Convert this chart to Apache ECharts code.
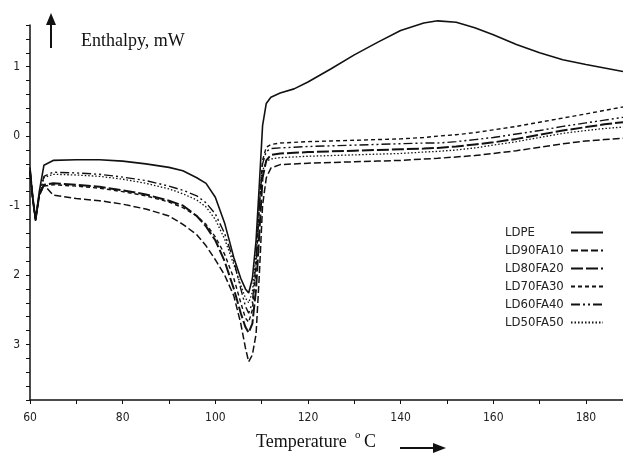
<!DOCTYPE html>
<html>
<head>
<meta charset="utf-8">
<script src="https://cdn.jsdelivr.net/npm/echarts@6/dist/echarts.min.js"></script>
<style>
  html, body { margin: 0; padding: 0; background: #fff; }
  #chart { width: 623px; height: 455px; }
</style>
</head>
<body>
<div id="chart"></div>
<script>
// temperature (°C) sampling points shared by all curves
const temps = [60, 60.6, 61.2, 62, 63, 65, 70, 75, 80, 85, 90, 93, 96, 98, 100, 102, 104, 105.5, 106.5, 107.2,
  108, 108.8, 109.5, 110.2, 111, 112, 114, 117, 120, 125, 130, 135, 140, 145, 148, 152, 156, 160, 165, 170,
  175, 180, 184, 188]

// enthalpy (mW)
const ldpe = [-0.45, -0.9, -1.22, -0.8, -0.42, -0.35, -0.34, -0.34, -0.36, -0.4, -0.45, -0.5, -0.6, -0.68, -0.88,
  -1.25, -1.75, -2.05, -2.2, -2.26, -2.05, -1.5, -0.7, 0.15, 0.47, 0.56, 0.62, 0.68, 0.78, 0.97, 1.17, 1.35, 1.52,
  1.63, 1.66, 1.64, 1.56, 1.46, 1.32, 1.2, 1.1, 1.03, 0.98, 0.93]
const ld90 = [-0.5, -0.9, -1.2, -0.85, -0.7, -0.85, -0.9, -0.93, -0.98, -1.05, -1.15, -1.27, -1.42, -1.58, -1.78,
  -2.0, -2.3, -2.7, -3.05, -3.25, -3.15, -2.85, -2.0, -1.0, -0.6, -0.46, -0.41, -0.4, -0.39, -0.38, -0.37, -0.36,
  -0.35, -0.33, -0.32, -0.3, -0.28, -0.25, -0.21, -0.16, -0.11, -0.07, -0.05, -0.03]
const ld80 = [-0.5, -0.9, -1.2, -0.85, -0.7, -0.68, -0.7, -0.73, -0.78, -0.84, -0.93, -1.0, -1.15, -1.3, -1.5,
  -1.8, -2.2, -2.55, -2.75, -2.83, -2.7, -2.2, -1.4, -0.6, -0.35, -0.27, -0.25, -0.24, -0.23, -0.22, -0.21, -0.2,
  -0.19, -0.18, -0.17, -0.15, -0.12, -0.09, -0.04, 0.02, 0.08, 0.13, 0.17, 0.2]
const ld70 = [-0.5, -0.9, -1.2, -0.85, -0.72, -0.7, -0.72, -0.75, -0.8, -0.86, -0.95, -1.03, -1.15, -1.27, -1.45,
  -1.7, -2.05, -2.4, -2.62, -2.68, -2.5, -1.9, -1.0, -0.35, -0.16, -0.12, -0.1, -0.09, -0.08, -0.07, -0.06, -0.05,
  -0.04, -0.02, 0.0, 0.02, 0.05, 0.09, 0.14, 0.2, 0.26, 0.32, 0.37, 0.42]
const ld60 = [-0.5, -0.9, -1.2, -0.85, -0.58, -0.52, -0.53, -0.55, -0.59, -0.64, -0.72, -0.78, -0.86, -0.96, -1.12,
  -1.4, -1.8, -2.2, -2.45, -2.55, -2.4, -1.8, -1.0, -0.4, -0.22, -0.18, -0.17, -0.16, -0.15, -0.14, -0.13, -0.12,
  -0.11, -0.1, -0.1, -0.08, -0.05, -0.02, 0.03, 0.08, 0.14, 0.19, 0.23, 0.27]
const ld50 = [-0.5, -0.9, -1.2, -0.85, -0.6, -0.55, -0.56, -0.58, -0.62, -0.68, -0.76, -0.83, -0.92, -1.02, -1.2,
  -1.48, -1.85, -2.15, -2.33, -2.4, -2.25, -1.7, -0.95, -0.5, -0.36, -0.33, -0.31, -0.3, -0.29, -0.28, -0.27, -0.26,
  -0.25, -0.23, -0.22, -0.2, -0.17, -0.13, -0.08, -0.02, 0.04, 0.08, 0.11, 0.13]

const seriesNames = ['LDPE', 'LD90FA10', 'LD80FA20', 'LD70FA30', 'LD60FA40', 'LD50FA50']
const seriesValues = [ldpe, ld90, ld80, ld70, ld60, ld50]
const dashTypes = ['solid', [7, 3], [12, 3], [4, 3], [9, 3, 2, 3, 2, 3], [1.5, 2]]
const widths = [1.6, 1.5, 2, 1.4, 1.4, 1.3]

let chart = echarts.init(document.querySelector('#chart'))

let series = []
for (let i = 0; i < seriesNames.length; i++) {
  let pts = temps.map((t, j) => [t, seriesValues[i][j]])
  series.push({
    name: seriesNames[i],
    type: 'line',
    data: pts,
    symbol: 'none',
    showSymbol: false,
    clip: false,
    lineStyle: { color: '#111', width: widths[i], type: dashTypes[i] },
    itemStyle: { color: '#111' }
  })
}

let option = {
  backgroundColor: '#fff',
  animation: false,
  grid: { left: 30, right: 0, top: 25, bottom: 55 },
  legend: {
    data: seriesNames,
    orient: 'vertical',
    left: 500,
    top: 221,
    align: 'right',
    itemWidth: 32,
    itemHeight: 12,
    itemGap: 5,
    itemStyle: { opacity: 0 },
    formatter: '{a|{name}}',
    textStyle: {
      color: '#222',
      rich: { a: { width: 61, align: 'left', fontFamily: 'DejaVu Sans Condensed', fontSize: 13, color: '#222' } }
    }
  },
  xAxis: {
    type: 'value',
    min: 60,
    max: 188,
    interval: 10,
    splitLine: { show: false },
    axisLine: { onZero: false, lineStyle: { color: '#111', width: 1.5 } },
    axisTick: { length: 4, lineStyle: { color: '#111' } },
    axisLabel: {
      margin: 12,
      color: '#222',
      fontFamily: 'DejaVu Sans Condensed',
      fontSize: 12,
      showMaxLabel: false,
      formatter: function (v) { return v % 20 === 0 ? String(v) : '' }
    }
  },
  yAxis: {
    type: 'value',
    min: -3.8,
    max: 1.6,
    interval: 0.2,
    splitLine: { show: false },
    axisLine: { onZero: false, lineStyle: { color: '#111', width: 1.5 } },
    axisTick: { length: 4, lineStyle: { color: '#111' } },
    axisLabel: {
      margin: 10,
      color: '#222',
      fontFamily: 'DejaVu Sans Condensed',
      fontSize: 12,
      formatter: function (v) {
        let r = Math.round(v)
        if (Math.abs(v - r) > 1e-6) return ''
        return r === -1 ? '-1' : String(Math.abs(r))
      }
    }
  },
  graphic: [
    { type: 'text', left: 81, top: 32, style: { text: 'Enthalpy, mW', font: '18px "Liberation Serif"', fill: '#111' } },
    { type: 'line', shape: { x1: 51, y1: 48, x2: 51, y2: 22 }, style: { stroke: '#111', lineWidth: 2 } },
    { type: 'polygon', shape: { points: [[46, 25], [51, 13], [56, 25]] }, style: { fill: '#111' } },
    { type: 'text', left: 256, top: 433, style: { text: 'Temperature', font: '18px "Liberation Serif"', fill: '#111' } },
    { type: 'text', left: 355, top: 430, style: { text: 'o', font: '11px "Liberation Serif"', fill: '#111' } },
    { type: 'text', left: 364, top: 433, style: { text: 'C', font: '18px "Liberation Serif"', fill: '#111' } },
    { type: 'line', shape: { x1: 400, y1: 448, x2: 436, y2: 448 }, style: { stroke: '#111', lineWidth: 2 } },
    { type: 'polygon', shape: { points: [[433, 443], [446, 448], [433, 453]] }, style: { fill: '#111' } }
  ],
  series: series
}

chart.setOption(option)
</script>
</body>
</html>
